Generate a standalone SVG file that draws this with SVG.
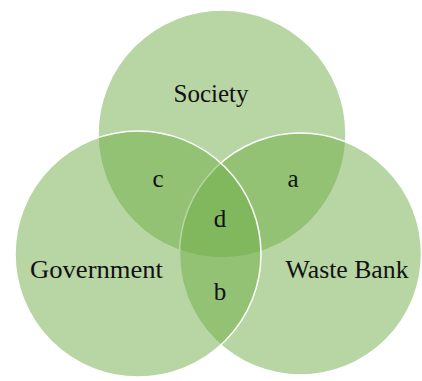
<svg xmlns="http://www.w3.org/2000/svg" width="422" height="381" viewBox="0 0 422 381">
  <style>
    .set { fill: #70ad47; fill-opacity: 0.5; stroke: #ffffff; stroke-width: 1.5; }
    .lbl { font-family: "Liberation Serif", "DejaVu Serif", serif; font-size: 25px; fill: #111111; text-anchor: middle; }
  </style>
  <rect width="422" height="381" fill="#ffffff"/>
  <g id="society">
    <circle class="set" cx="222" cy="134" r="124"/>
  </g>
  <g id="waste-bank">
    <circle class="set" cx="300.5" cy="254" r="121"/>
  </g>
  <g id="government">
    <circle class="set" cx="138" cy="254" r="123"/>
  </g>
  <g id="labels">
    <text class="lbl" x="211" y="102" textLength="75" lengthAdjust="spacingAndGlyphs">Society</text>
    <text class="lbl" x="96.5" y="278" textLength="133" lengthAdjust="spacingAndGlyphs">Government</text>
    <text class="lbl" x="347" y="278" textLength="123" lengthAdjust="spacingAndGlyphs">Waste Bank</text>
    <text class="lbl" x="158" y="187">c</text>
    <text class="lbl" x="293" y="187">a</text>
    <text class="lbl" x="220" y="227">d</text>
    <text class="lbl" x="220" y="300">b</text>
  </g>
</svg>
